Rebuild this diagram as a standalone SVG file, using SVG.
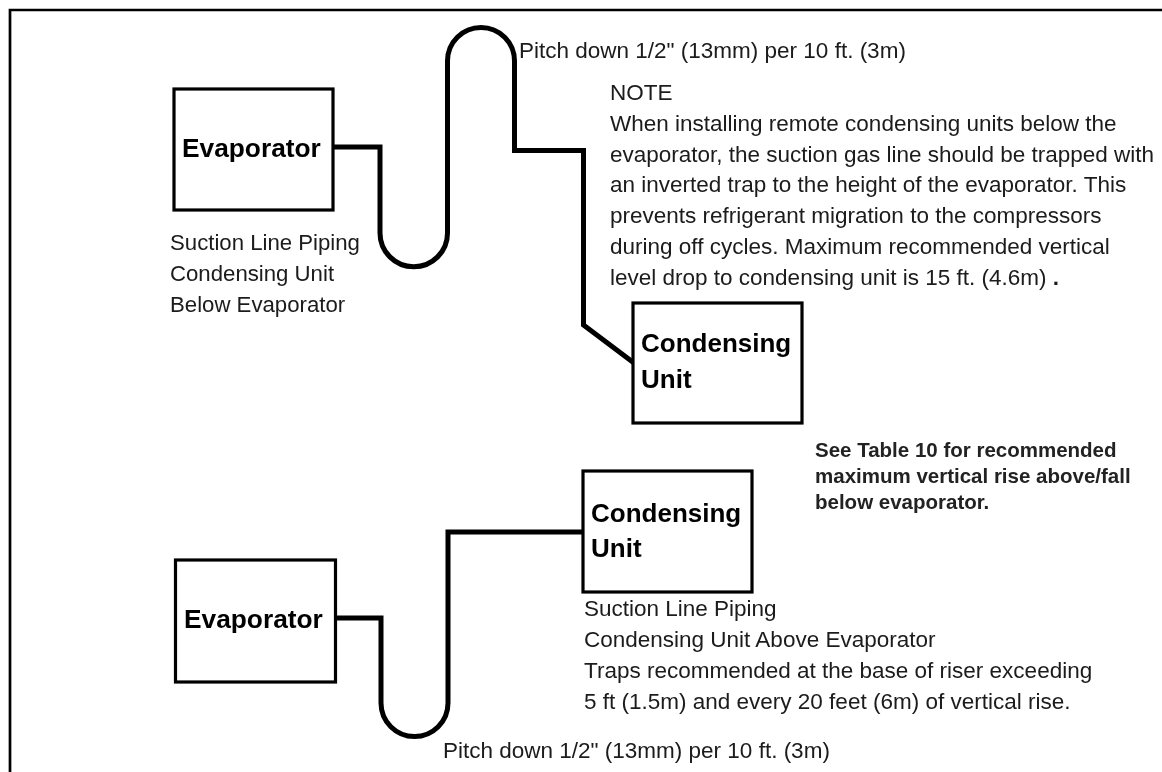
<svg xmlns="http://www.w3.org/2000/svg" width="1162" height="772" viewBox="0 0 1162 772">
<style>
text{font-family:"Liberation Sans",Arial,sans-serif;fill:#1a1a1a}
.t{font-size:22.5px}
.l{font-size:22.2px}
.s{font-size:20.5px;font-weight:bold;fill:#222}
.b{font-weight:bold;font-size:26.3px;fill:#000}
.c{font-weight:bold;font-size:26px;fill:#000}
.box{fill:#fff;stroke:#000;stroke-width:3.2}
.pipe{fill:none;stroke:#000;stroke-width:5;stroke-linejoin:miter}
</style>
<defs><filter id="soft" filterUnits="userSpaceOnUse" x="0" y="0" width="1162" height="772"><feGaussianBlur stdDeviation="0.45"/></filter></defs>
<rect width="1162" height="772" fill="#fff"/>
<path id="frame" d="M10 772V10H1162" fill="none" stroke="#000" stroke-width="2.700"/>
<g filter="url(#soft)">
<g id="connectors">
<path class="pipe" d="M334 147H380V233A33.500 33.500 0 0 0 447.500 233V61A33.500 33.500 0 0 1 514.500 61V150.500H583.500V325L634 363"/>
<path class="pipe" d="M335 618H381V703A33.500 33.500 0 0 0 448 703V532H583"/>
</g>
<g id="evaporator-1"><rect class="box" x="174" y="89" width="159" height="121"/><text class="b" x="182" y="157">Evaporator</text></g>
<g id="condensing-unit-1"><rect class="box" x="633" y="303" width="169" height="120"/><text class="c" x="641" y="352">Condensing</text><text class="c" x="641" y="388">Unit</text></g>
<g id="evaporator-2"><rect class="box" x="175.500" y="560" width="160" height="122"/><text class="b" x="184" y="628">Evaporator</text></g>
<g id="condensing-unit-2"><rect class="box" x="583" y="471" width="169" height="121"/><text class="c" x="591" y="522">Condensing</text><text class="c" x="591" y="557">Unit</text></g>
<g id="labels">
<text class="t" x="519" y="58">Pitch down 1/2" (13mm) per 10 ft. (3m)</text>
<text class="t" x="610" y="100">NOTE</text>
<text class="t" x="610" y="131">When installing remote condensing units below the</text>
<text class="t" x="610" y="162">evaporator, the suction gas line should be trapped with</text>
<text class="t" x="610" y="192">an inverted trap to the height of the evaporator. This</text>
<text class="t" x="610" y="223">prevents refrigerant migration to the compressors</text>
<text class="t" x="610" y="254">during off cycles.  Maximum recommended vertical</text>
<text class="t" x="610" y="285">level drop to condensing unit is 15 ft. (4.6m) <tspan font-weight="bold">.</tspan></text>
<text class="l" x="170" y="250">Suction Line Piping</text>
<text class="l" x="170" y="281">Condensing Unit</text>
<text class="l" x="170" y="312">Below Evaporator</text>
<text class="s" x="815" y="457">See Table 10 for recommended</text>
<text class="s" x="815" y="483">maximum vertical rise above/fall</text>
<text class="s" x="815" y="509">below evaporator.</text>
<text class="t" x="584" y="616">Suction Line Piping</text>
<text class="t" x="584" y="647">Condensing Unit Above Evaporator</text>
<text class="t" x="584" y="678">Traps recommended at the base of riser exceeding</text>
<text class="t" x="584" y="709">5 ft (1.5m) and every 20 feet (6m) of vertical rise.</text>
<text class="t" x="443" y="758">Pitch down 1/2" (13mm) per 10 ft. (3m)</text>
</g>
</g>
</svg>
